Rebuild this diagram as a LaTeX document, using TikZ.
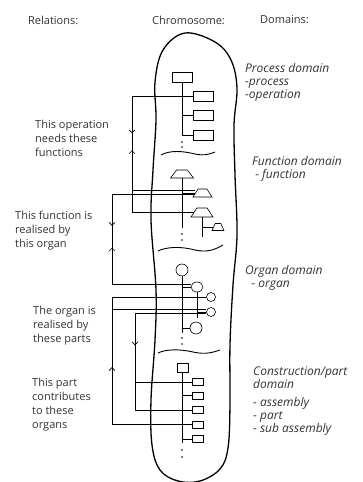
\documentclass[tikz,border=0pt]{standalone}
\usepackage{fontspec}
\setmainfont{Open Sans}
\usetikzlibrary{arrows.meta, shapes.geometric, decorations.markings}

\begin{document}
\begin{tikzpicture}[x=1pt, y=-1pt,
  every node/.style={inner sep=0pt},
  tree/.style={line width=0.6pt},
  rel/.style={line width=0.6pt},
  procbox/.style={draw, line width=0.6pt, minimum width=20pt, minimum height=10pt},
  fnbox/.style={draw, line width=0.6pt, trapezium, trapezium left angle=60, trapezium right angle=60,
    trapezium stretches=true, inner sep=1pt, minimum width=#1, minimum height=8pt},
  fnbox/.default=20pt,
  orgnode/.style={draw, line width=0.6pt, circle, minimum size=#1},
  partbox/.style={draw, line width=0.6pt, minimum width=11pt, minimum height=7pt},
  chev/.style={postaction={decorate, decoration={markings,
    mark=at position #1 with {\arrow{Straight Barb[length=3pt,width=6pt]}}}}},
  chevrev/.style={postaction={decorate, decoration={markings,
    mark=at position #1 with {\arrowreversed{Straight Barb[length=3pt,width=6pt]}}}}},
  hdr/.style={font=\fontsize{11}{13}\selectfont, anchor=west, text=black!80},
  lbl/.style={font=\fontsize{11}{14}\selectfont, align=left, anchor=north west, text=black!80},
  dom/.style={font=\fontsize{12}{13}\selectfont\itshape, align=left, anchor=north west, text=black!80}
]
\useasboundingbox (0,0) rectangle (362,482);

% headings
\node[hdr] (hrel) at (28,20) {Relations:};
\node[hdr] (hchr) at (152,20) {Chromosome:};
\node[hdr] (hdom) at (260,20) {Domains:};

% chromosome outline
\draw[line width=1.3pt] plot[smooth cycle, tension=0.6] coordinates {
  (185,33) (215,42) (231,60) (237,88) (234,125) (235,175) (237,235) (233,285)
  (230,345) (230,405) (228,448) (220,469) (200,481) (178,481) (160,470) (152,445)
  (151,400) (155,340) (156,290) (151,220) (153,170) (156,120) (155,82) (163,50)};

% domain separators
\draw[line width=0.9pt] (161,155) .. controls (170,150) and (183,151) .. (195,154)
  .. controls (204,156) and (210,154) .. (215,152);
\draw[line width=0.9pt] (158,251) .. controls (166,247) and (180,246) .. (195,250)
  .. controls (208,253) and (216,249) .. (223,245);
\draw[line width=0.9pt] (158,353) .. controls (166,349) and (180,349) .. (193,352)
  .. controls (206,355) and (214,352) .. (220,350);

% process domain
\node[procbox] (op0) at (182,77) {};
\foreach \n/\y in {1/96,2/115,3/135}
  \node[procbox] (op\n) at (203,\y) {};
\draw[tree] (op0.south) |- (op3.west);
\foreach \n in {1,2}
  \draw[tree] (op0.south |- op\n.west) -- (op\n.west);

% function domain
\node[fnbox=23pt] (fn1) at (182,174) {};
\node[fnbox=19pt] (fn2) at (202.5,193) {};
\node[fnbox=22pt, minimum height=9pt] (fn3) at (202,212.5) {};
\node[fnbox=12pt, minimum height=7pt] (fn4) at (218,227) {};
\draw[tree] (fn1.south) -- ++(0,50);
\foreach \n in {2,3}
  \draw[tree] (fn1.south |- fn\n.west) -- (fn\n.west);
\draw[tree] (fn3.south) -- ++(0,20);
\draw[tree] (fn3.south |- fn4.west) -- (fn4.west);

% organ domain
\node[orgnode=12pt] (org1) at (182,270) {};
\node[draw, line width=0.6pt, ellipse, minimum width=12pt, minimum height=10pt] (org2) at (197,287) {};
\node[orgnode=9pt] (org3) at (211,297) {};
\node[orgnode=9pt] (org4) at (211,312) {};
\node[orgnode=12pt] (org5) at (196,328) {};
\draw[tree] (org1.south) -- (182,333);
\foreach \n in {2,5}
  \draw[tree] (org1.south |- org\n.west) -- (org\n.west);
\draw[tree] (org2.south) -- ++(0,26);
\foreach \n in {3,4}
  \draw[tree] (org2.south |- org\n.west) -- (org\n.west);

% construction/part domain
\node[partbox, minimum height=9pt] (pt0) at (182.5,367.5) {};
\foreach \n/\y in {1/382,2/395.5,3/410,4/424.5,5/439}
  \node[partbox] (pt\n) at (197.5,\y) {};
\draw[tree] (pt0.south) -- (pt0.south |- 0,443);
\foreach \n in {1,...,5}
  \draw[tree] (pt0.south |- pt\n.west) -- (pt\n.west);

% continuation dots
\foreach \y in {142,147,234,240,338,344,450,457}
  \fill (182,\y) circle (0.8pt);

% relations
\coordinate (opfn) at (132,0);
\coordinate (fnorg) at (112,0);
\coordinate (orgpt) at (135,0);
\coordinate (ptorg) at (112,0);

\draw[rel, chev=98pt, chevrev=115pt] (op1.west) -| (opfn |- fn3.west) -- (fn3.west);
\draw[rel] ([yshift=3pt]fn2.west -| opfn) -- ([yshift=3pt]fn2.west);

\draw[rel, chev=115pt, chevrev=137pt] ([yshift=-1pt]fn2.west) -| (fnorg |- org2.155) -- (org2.155);

\draw[rel, chev=103pt] ([yshift=-1.5pt]org4.west) -| (orgpt |- pt3.west) -- (pt3.west);
\draw[rel] (orgpt |- pt1.west) -- (pt1.west);

\draw[rel, chev=137pt] (pt4.west) -| (ptorg |- org3.west) -- (org3.west);
\draw[rel] ([yshift=3pt]org4.west -| ptorg) -- ([yshift=3pt]org4.west);

% relation labels
\node[lbl] (l1) at (35,120) {This operation\\needs these\\functions};
\node[lbl] (l2) at (15,211) {This function is\\realised by\\this organ};
\node[lbl] (l3) at (33,306) {The organ is\\realised by\\these parts};
\node[lbl] (l4) at (32,378) {This part\\contributes\\to these\\organs};

% domain labels
\node[dom] (d1) at (245,63) {Process domain\\ -process\\ -operation};
\node[dom] (d2) at (252,156) {Function domain\\ \ - function};
\node[dom] (d3) at (245,265) {Organ domain\\ \ \ - organ};
\node[dom] (d4) at (253,366) {Construction/part\\domain\\[5pt] - assembly\\ - part\\ - sub assembly};
\end{tikzpicture}
\end{document}
